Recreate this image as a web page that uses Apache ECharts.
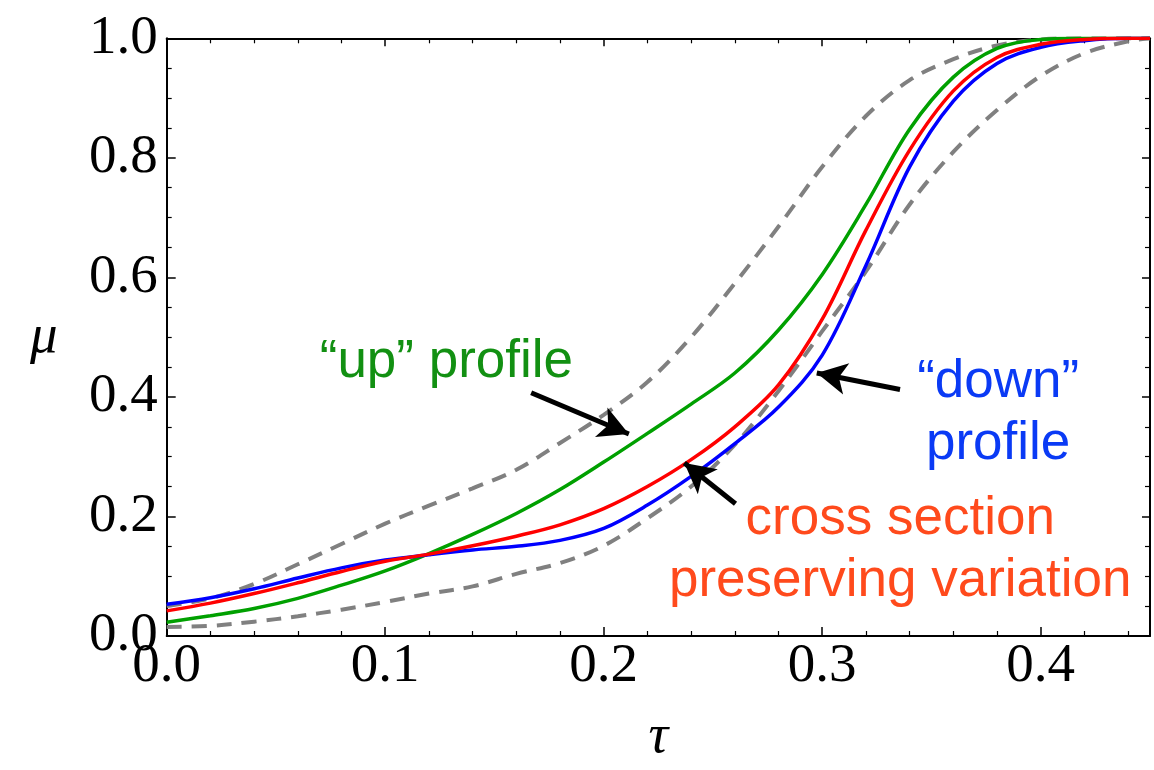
<!DOCTYPE html>
<html>
<head>
<meta charset="utf-8">
<script src="https://cdn.jsdelivr.net/npm/echarts@6/dist/echarts.min.js"></script>
<style>
html,body{margin:0;padding:0;background:#fff;}
#chart{width:1154px;height:770px;}
</style>
</head>
<body>
<div id="chart"></div>
<script>
// ---- data ----
const tau = [0, 0.02, 0.04, 0.06, 0.08, 0.10, 0.12, 0.14, 0.16, 0.18, 0.20, 0.22, 0.24, 0.26, 0.28, 0.30, 0.32, 0.34, 0.36, 0.38, 0.40, 0.42, 0.44, 0.45];
const muUp    = [0.023, 0.034, 0.046, 0.063, 0.085, 0.109, 0.138, 0.170, 0.205, 0.245, 0.291, 0.339, 0.388, 0.440, 0.512, 0.605, 0.722, 0.848, 0.935, 0.983, 0.998, 1.0, 1.0, 1.0];
const muCross = [0.042, 0.055, 0.071, 0.089, 0.108, 0.125, 0.137, 0.151, 0.167, 0.186, 0.213, 0.250, 0.295, 0.350, 0.420, 0.530, 0.679, 0.813, 0.912, 0.968, 0.990, 0.998, 1.0, 1.0];
const muDown  = [0.053, 0.064, 0.079, 0.097, 0.114, 0.127, 0.136, 0.144, 0.150, 0.160, 0.180, 0.219, 0.267, 0.322, 0.383, 0.470, 0.620, 0.785, 0.895, 0.958, 0.985, 0.996, 1.0, 1.0];
const muBandHi = [0.050, 0.063, 0.087, 0.120, 0.154, 0.188, 0.218, 0.247, 0.278, 0.323, 0.370, 0.425, 0.500, 0.590, 0.685, 0.785, 0.870, 0.930, 0.965, 0.988, 0.998, 1.0, 1.0, 1.0];
const muBandLo = [0.015, 0.017, 0.024, 0.033, 0.044, 0.057, 0.071, 0.083, 0.104, 0.122, 0.151, 0.197, 0.250, 0.320, 0.410, 0.510, 0.610, 0.722, 0.810, 0.880, 0.937, 0.975, 0.995, 1.0];

const xTicks = { min: 0, max: 0.45, interval: 0.1 };
const yTicks = { min: 0, max: 1.0, interval: 0.2 };

// annotation texts and anchors (data coordinates)
const labelUp = { text: '\u201Cup\u201D profile', at: [0.128, 0.458] };
const labelDown = { text: '\u201Cdown\u201D\nprofile', at: [0.3805, 0.3726] };
const labelCross = { text: 'cross section\npreserving variation', at: [0.3357, 0.144] };
const arrowUp = [[0.1668, 0.407], [0.2115, 0.338]];
const arrowDown = [[0.3356, 0.4125], [0.2975, 0.440]];
const arrowCross = [[0.2603, 0.2213], [0.2369, 0.2895]];

// ---- chart ----
const pairs = ys => tau.map((t, i) => [t, ys[i]]);
const serifFont = '"Liberation Serif", "Times New Roman", serif';
const sansFont = '"Liberation Sans", Arial, Helvetica, sans-serif';

function arrowLine(a) {
  return [{ coord: a[0] }, { coord: a[1] }];
}
function textPoint(l, color) {
  return {
    coord: l.at,
    symbol: 'circle', symbolSize: 0,
    itemStyle: { color: 'rgba(0,0,0,0)' },
    label: {
      show: true, position: 'inside', formatter: l.text,
      color: color, fontFamily: sansFont, fontSize: 53, lineHeight: 62, align: 'center'
    }
  };
}

const tickLabel = {
  fontFamily: serifFont, fontSize: 55, color: '#000'
};

const chart = echarts.init(document.getElementById('chart'), null, { renderer: 'canvas' });
const baseAxis = {
  axisLine: { show: true, onZero: false, lineStyle: { color: '#000', width: 2 } },
  axisTick: { show: true, inside: true, length: 9, lineStyle: { color: '#000', width: 1.5 } },
  minorTick: { show: true, length: 5, lineStyle: { color: '#000', width: 1.2 } },
  splitLine: { show: false }
};
const lineCommon = { type: 'line', showSymbol: false, smooth: 0.35 };
const option = {
  animation: false,
  backgroundColor: '#fff',
  grid: { left: 166.7, right: 4, top: 38.3, bottom: 121.7, containLabel: false },
  xAxis: [
    Object.assign({}, baseAxis, {
      type: 'value', position: 'bottom', min: xTicks.min, max: xTicks.max, interval: xTicks.interval,
      minorTick: Object.assign({}, baseAxis.minorTick, { splitNumber: 5 }),
      axisLabel: Object.assign({}, tickLabel, { margin: 3, showMaxLabel: false, formatter: v => v.toFixed(1) }),
      name: '\u03C4', nameLocation: 'middle', nameGap: 74,
      nameTextStyle: { fontFamily: serifFont, fontStyle: 'italic', fontSize: 55, color: '#000' }
    }),
    Object.assign({}, baseAxis, {
      type: 'value', position: 'top', min: xTicks.min, max: xTicks.max, interval: xTicks.interval,
      minorTick: Object.assign({}, baseAxis.minorTick, { splitNumber: 5 }),
      axisTick: Object.assign({}, baseAxis.axisTick, { length: 8 }),
      axisLabel: { show: false }
    })
  ],
  yAxis: [
    Object.assign({}, baseAxis, {
      type: 'value', position: 'left', min: yTicks.min, max: yTicks.max, interval: yTicks.interval,
      minorTick: Object.assign({}, baseAxis.minorTick, { splitNumber: 4 }),
      axisLabel: Object.assign({}, tickLabel, { margin: 9, padding: [0, 0, 7, 0], formatter: v => v.toFixed(1) }),
      name: '\u03BC', nameLocation: 'middle', nameGap: 109, nameRotate: 0,
      nameTextStyle: { fontFamily: serifFont, fontStyle: 'italic', fontSize: 55, color: '#000', padding: [0, 0, 24, 0] }
    }),
    Object.assign({}, baseAxis, {
      type: 'value', position: 'right', min: yTicks.min, max: yTicks.max, interval: yTicks.interval,
      minorTick: Object.assign({}, baseAxis.minorTick, { splitNumber: 4 }),
      axisTick: Object.assign({}, baseAxis.axisTick, { length: 8 }),
      axisLabel: { show: false }
    })
  ],
  series: [
    Object.assign({}, lineCommon, {
      name: 'band high', data: pairs(muBandHi),
      lineStyle: { color: '#808080', width: 4, type: [15, 10] }, z: 2
    }),
    Object.assign({}, lineCommon, {
      name: 'band low', data: pairs(muBandLo),
      lineStyle: { color: '#808080', width: 4, type: [15, 10] }, z: 2
    }),
    Object.assign({}, lineCommon, {
      name: 'up', data: pairs(muUp),
      lineStyle: { color: '#00a000', width: 3.5 }, z: 3
    }),
    Object.assign({}, lineCommon, {
      name: 'down', data: pairs(muDown),
      lineStyle: { color: '#0000ff', width: 3.5 }, z: 3
    }),
    Object.assign({}, lineCommon, {
      name: 'cross', data: pairs(muCross),
      lineStyle: { color: '#ff0000', width: 3.5 }, z: 4,
      markLine: {
        silent: true, animation: false,
        symbol: ['none', 'arrow'], symbolSize: [24, 30],
        label: { show: false },
        lineStyle: { color: '#000', width: 5, type: 'solid' },
        emphasis: { disabled: true },
        data: [arrowLine(arrowUp), arrowLine(arrowDown), arrowLine(arrowCross)]
      },
      markPoint: {
        silent: true, animation: false,
        data: [
          textPoint(labelUp, '#129012'),
          textPoint(labelDown, '#0a3af5'),
          textPoint(labelCross, '#ff4a1c')
        ]
      }
    })
  ]
};
chart.setOption(option);
</script>
</body>
</html>
